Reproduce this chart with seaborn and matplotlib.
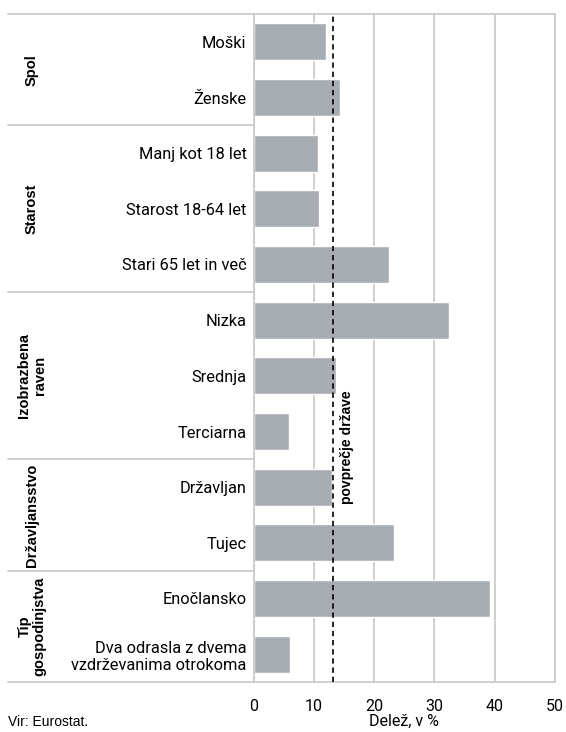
import matplotlib
matplotlib.use("Agg")
import matplotlib.pyplot as plt
import matplotlib.transforms as mtransforms
import seaborn as sns
import pandas as pd

# Categories, their groups and share values (in %)
categories = [
    "Moški", "Ženske",
    "Manj kot 18 let", "Starost 18-64 let", "Stari 65 let in več",
    "Nizka", "Srednja", "Terciarna",
    "Državljan", "Tujec",
    "Enočlansko", "Dva odrasla z dvema\nvzdrževanima otrokoma",
]
values = [12.1, 14.3, 10.7, 10.9, 22.5, 32.4, 13.7, 5.9, 13.1, 23.3, 39.3, 6.0]
groups = ["Spol", "Starost", "Izobrazbena\nraven", "Državljansstvo", "Tip\ngospodinjstva"]
group_sizes = [2, 3, 3, 2, 2]
national_avg = 13.2
x_ticks = [0, 10, 20, 30, 40, 50]

df = pd.DataFrame({"kategorija": categories, "delez": values})

sns.set_theme(style="white")
plt.rcParams["font.family"] = ["Roboto", "DejaVu Sans"]
plt.rcParams["text.color"] = "black"
plt.rcParams["xtick.color"] = "black"
plt.rcParams["ytick.color"] = "black"
plt.rcParams["axes.labelcolor"] = "black"

W, H = 566, 732
fig = plt.figure(figsize=(W / 100, H / 100), dpi=100)
ax_left, ax_right, ax_top, ax_bottom = 253.5, 555, 14, 682
ax = fig.add_axes([ax_left / W, 1 - ax_bottom / H,
                   (ax_right - ax_left) / W, (ax_bottom - ax_top) / H])

grid_col = "#CBCBCB"
bar_col = "#A8ADB3"

sns.barplot(data=df, y="kategorija", x="delez", orient="h", color=bar_col,
            width=0.66, ax=ax, saturation=1)

n_cat = len(categories)
ax.set_xlim(0, 50)
ax.set_ylim(n_cat - 0.5, -0.5)
ax.set_xticks(x_ticks)
ax.set_xticklabels([str(t) for t in x_ticks], fontsize=11.5)
ax.xaxis.grid(True, color=grid_col, lw=1.3)
ax.set_axisbelow(True)
ax.tick_params(axis="both", length=0)
ax.tick_params(axis="x", pad=12)
ax.tick_params(axis="y", pad=5, labelsize=11.8)
for lab in ax.get_yticklabels():
    lab.set_multialignment("right")
ax.set_ylabel("")
ax.set_xlabel("Delež, v %", fontsize=11.5, labelpad=0)
for s in ax.spines.values():
    s.set_color(grid_col)
    s.set_linewidth(1.3)

# national average
ax.axvline(national_avg, color="black", ls=(0, (3.2, 2.3)), lw=1.2, zorder=5)
ax.text(15.45, 7.28, "povprečje države", rotation=90, ha="center", va="center",
        fontsize=10, fontweight="bold", family=["Liberation Sans", "DejaVu Sans"])

# group separators and group labels in the label column
blend = mtransforms.blended_transform_factory(fig.transFigure, ax.transData)
x0 = 8 / W
x1 = ax_left / W
bounds = [-0.5]
for n in group_sizes:
    bounds.append(bounds[-1] + n)
for b in bounds:
    ax.plot([x0, x1], [b, b], color=grid_col, lw=1.3, transform=blend,
            clip_on=False, zorder=0, scalex=False, scaley=False)
for g, lo, hi in zip(groups, bounds[:-1], bounds[1:]):
    ax.text(32 / W, (lo + hi) / 2, g, rotation=90, ha="center", va="center",
            transform=blend, fontsize=10.5, fontweight="bold",
            family=["Liberation Sans", "DejaVu Sans"], linespacing=1.1)

ax.set_ylim(n_cat - 0.5, -0.5)

fig.text(8 / W, 1 - 722 / H, "Vir: Eurostat.", ha="left", va="center",
         fontsize=10, family=["Liberation Sans", "DejaVu Sans"])

fig.savefig("out.png", dpi=100)
